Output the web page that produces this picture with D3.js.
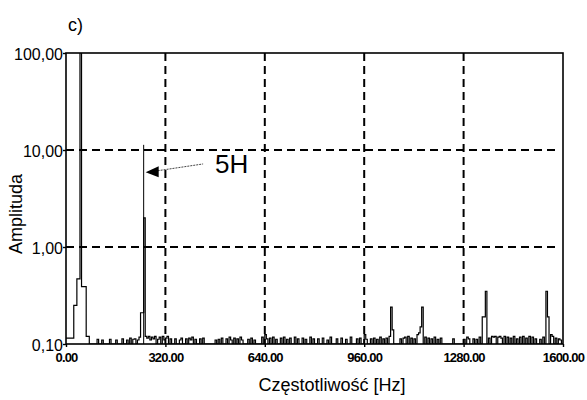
<!DOCTYPE html>
<html>
<head>
<meta charset="utf-8">
<script src="https://cdn.jsdelivr.net/npm/d3@7"></script>
<style>
  body { margin: 0; background: #fff; }
  svg { display: block; }
  text { font-family: "Liberation Sans", Arial, Helvetica, sans-serif; fill: #000; }
</style>
</head>
<body>
<svg id="chart" width="587" height="400"></svg>
<script>
// Axis ticks
const xTicks = [0, 320, 640, 960, 1280, 1600];
const xTickLabels = ["0.00", "320.00", "640.00", "960.00", "1280.00", "1600.00"];
const yTicks = [0.1, 1, 10, 100];
const yTickLabels = ["0,10", "1,00", "10,00", "100,00"];

// Spectrum: 5 Hz bins, start frequency [Hz] and amplitude; bins not listed sit on the 0.1 floor
const binWidth = 5;
const floorAmp = 0.1;
const binFreq = [
  0, 5, 10, 15, 20, 25, 30, 35, 40, 45, 50, 55, 60, 65, 70,
  100, 115, 140, 160, 180, 195, 205, 215, 220, 230, 235,
  240, 245, 250, 255, 260, 265, 270, 275, 280, 285,
  295, 300, 310, 315, 320, 325, 335, 350, 365, 370, 385,
  395, 400, 405, 415, 430, 440, 480, 490, 500,
  515, 525, 530, 540, 550, 560, 565, 585, 595, 605,
  630, 640, 645, 655, 665, 675, 690, 700, 710, 720, 735, 745, 760, 770, 785, 795,
  810, 825, 840, 850, 870, 885, 900, 915, 935, 945, 960, 965,
  980, 990, 1000, 1010, 1020, 1030, 1040, 1045, 1050,
  1075, 1085, 1090, 1100, 1110, 1120, 1130, 1135, 1140, 1145,
  1155, 1165, 1175, 1185, 1195, 1205, 1245, 1280, 1290, 1295,
  1310, 1320, 1330, 1340, 1345, 1350,
  1360, 1370, 1375, 1380, 1390, 1395, 1400, 1410, 1420, 1430, 1440, 1450, 1460, 1470, 1480, 1490, 1500, 1510,
  1525, 1535, 1545, 1550, 1560, 1565, 1575, 1585, 1590
];
const binAmp = [
  0.115, 0.115, 0.115, 0.115, 0.115, 0.25, 0.25, 0.47, 0.47, 200, 0.39, 0.39, 0.39, 0.12, 0.12,
  0.112, 0.110, 0.112, 0.110, 0.113, 0.110, 0.115, 0.112, 0.113, 0.110, 0.118,
  0.21, 0.21, 2.0, 0.12, 0.115, 0.12, 0.11, 0.118, 0.113, 0.12,
  0.112, 0.118, 0.12, 0.11, 0.115, 0.12, 0.113, 0.113, 0.11, 0.115, 0.113,
  0.115, 0.11, 0.118, 0.112, 0.113, 0.115, 0.11, 0.112, 0.115,
  0.113, 0.118, 0.11, 0.115, 0.113, 0.118, 0.11, 0.112, 0.115, 0.11,
  0.118, 0.125, 0.113, 0.115, 0.118, 0.112, 0.115, 0.118, 0.112, 0.115, 0.118, 0.113, 0.115, 0.112, 0.118, 0.113,
  0.113, 0.115, 0.11, 0.118, 0.113, 0.115, 0.112, 0.118, 0.113, 0.115, 0.125, 0.112,
  0.113, 0.115, 0.112, 0.118, 0.113, 0.115, 0.12, 0.24, 0.14,
  0.113, 0.115, 0.118, 0.12, 0.115, 0.113, 0.125, 0.13, 0.15, 0.24,
  0.118, 0.115, 0.113, 0.118, 0.112, 0.115, 0.113, 0.112, 0.118, 0.113,
  0.113, 0.112, 0.118, 0.19, 0.19, 0.35,
  0.115, 0.12, 0.118, 0.12, 0.118, 0.12, 0.115, 0.12, 0.118, 0.115, 0.12, 0.113, 0.118, 0.12, 0.115, 0.12, 0.118, 0.113,
  0.112, 0.118, 0.35, 0.19, 0.125, 0.12, 0.115, 0.113, 0.11
];

// 5th harmonic cursor and its label
const markerFreq = 250;
const markerAmp = 11.3;
const markerLabel = "5H";
const labelFreq = 480;
const labelAmp = 5.8;
const arrowAmp = 5.9;

const title = "c)";
const xTitle = "Częstotliwość [Hz]";
const yTitle = "Amplituda";

const margin = { top: 53, right: 24, bottom: 56, left: 66 };
const W = 587, H = 400;
const iw = W - margin.left - margin.right;
const ih = H - margin.top - margin.bottom;

const svg = d3.select("#chart");
const g = svg.append("g").attr("transform", `translate(${margin.left},${margin.top})`);

const x = d3.scaleLinear().domain([0, 1600]).range([0, iw]);
const y = d3.scaleLog().domain([0.1, 100]).range([ih, 0]);

svg.append("clipPath").attr("id", "plotClip")
  .append("rect").attr("x", 0).attr("y", 0).attr("width", iw).attr("height", ih);

// Dashed grid
const dash = "8,5";
g.append("g").selectAll("line").data(xTicks.filter(d => d > 0 && d < 1600)).join("line")
  .attr("x1", d => x(d)).attr("x2", d => x(d)).attr("y1", 0).attr("y2", ih)
  .attr("stroke", "#000").attr("stroke-width", 2).attr("stroke-dasharray", dash);
g.append("g").selectAll("line").data(yTicks.filter(d => d > 0.1 && d < 100)).join("line")
  .attr("x1", 0).attr("x2", iw - 3).attr("y1", d => y(d)).attr("y2", d => y(d))
  .attr("stroke", "#000").attr("stroke-width", 2).attr("stroke-dasharray", dash);

// Spectrum as a step outline
const pts = [];
const bins = binFreq.map((f, i) => ({ f, a: binAmp[i] })).sort((a, b) => a.f - b.f);
if (bins.length && bins[0].f > 0) pts.push([0, floorAmp]);
bins.forEach((b, i) => {
  pts.push([b.f, b.a]);
  const next = bins[i + 1];
  if (!next || next.f !== b.f + binWidth) pts.push([b.f + binWidth, floorAmp]);
});
pts.push([1600, floorAmp]);

const line = d3.line()
  .x(d => x(d[0]))
  .y(d => y(Math.max(d[1], floorAmp)))
  .curve(d3.curveStepAfter);

g.append("path")
  .attr("clip-path", "url(#plotClip)")
  .attr("d", line(pts))
  .attr("fill", "none")
  .attr("stroke", "#000")
  .attr("stroke-width", 1.2);

// Harmonic cursor
g.append("line")
  .attr("x1", x(markerFreq)).attr("x2", x(markerFreq))
  .attr("y1", y(floorAmp)).attr("y2", y(markerAmp))
  .attr("stroke", "#000").attr("stroke-width", 1);

// Frame
g.append("rect").attr("x", 0).attr("y", 0).attr("width", iw).attr("height", ih)
  .attr("fill", "none").attr("stroke", "#000").attr("stroke-width", 1.6);

// Axes
const xAxis = d3.axisBottom(x).tickValues(xTicks).tickSize(3)
  .tickFormat((d, i) => xTickLabels[i]);
const gx = g.append("g").attr("transform", `translate(0,${ih})`).call(xAxis);
gx.select(".domain").remove();
gx.selectAll("line").attr("stroke", "#000").attr("stroke-width", 1.4);
gx.selectAll("text")
  .attr("y", 9).attr("dy", "0.71em")
  .style("font-family", "'Liberation Sans', Arial, sans-serif")
  .style("font-size", "13px").style("font-weight", "bold")
  .style("letter-spacing", "-0.8px")
  .attr("fill", "#000");

const yAxis = d3.axisLeft(y).tickValues(yTicks).tickSize(3)
  .tickFormat((d, i) => yTickLabels[i]);
const gy = g.append("g").call(yAxis);
gy.select(".domain").remove();
gy.selectAll("line").attr("stroke", "#000").attr("stroke-width", 1.4);
gy.selectAll("text")
  .attr("x", -3).attr("dy", "0.42em")
  .style("font-family", "'Liberation Sans', Arial, sans-serif")
  .style("font-size", "16px")
  .attr("fill", "#000");

// Annotation: arrow from the label to the cursor
const tipX = x(markerFreq) + 2, tipY = y(arrowAmp);
const lx = x(labelFreq), ly = y(labelAmp);
g.append("line")
  .attr("x1", tipX + 12).attr("y1", tipY - 1.5)
  .attr("x2", lx - 12).attr("y2", ly - 9)
  .attr("stroke", "#444").attr("stroke-width", 1).attr("stroke-dasharray", "2,1");
g.append("path")
  .attr("d", `M${tipX},${tipY} L${tipX + 13},${tipY - 6} L${tipX + 13},${tipY + 5} Z`)
  .attr("fill", "#000");
g.append("text")
  .attr("x", lx).attr("y", ly)
  .style("font-size", "26px")
  .text(markerLabel);

// Titles
svg.append("text").attr("x", 68).attr("y", 31)
  .style("font-size", "18px").text(title);
svg.append("text")
  .attr("x", margin.left + 266).attr("y", 391)
  .attr("text-anchor", "middle")
  .style("font-size", "18px").text(xTitle);
svg.append("text")
  .attr("transform", "translate(22,214) rotate(-90)")
  .attr("text-anchor", "middle")
  .style("font-size", "18px").text(yTitle);
</script>
</body>
</html>
